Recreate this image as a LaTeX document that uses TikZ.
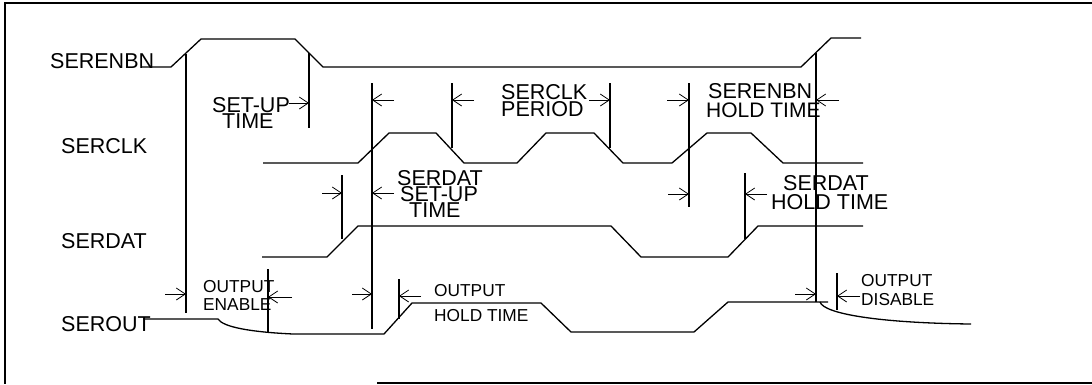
\documentclass[tikz,border=0pt]{standalone}
\usepackage{fontspec}
\setmainfont{Liberation Sans}
\usetikzlibrary{arrows.meta}
\begin{document}
\begin{tikzpicture}[x=1pt,y=-1pt,
  wave/.style={line width=1.3pt,line join=miter},
  marker/.style={line width=1.3pt},
  dim/.style={line width=0.8pt,-{Straight Barb[length=9pt,width=12pt,line width=0.8pt]}},
  big/.style={inner sep=0pt,anchor=base west,font=\fontsize{21.5}{22}\selectfont},
  small/.style={inner sep=0pt,anchor=base west,font=\fontsize{17.3}{18}\selectfont},
  frame/.style={line width=1.2pt}]
\useasboundingbox (0,0) rectangle (1092,384);
% frame
\draw[frame] (1092,3) -- (5,3) -- (5,384);
\draw[frame] (377,383) -- (1092,383);
% signal names
\node[big] (nEnb) at (50,68) {SERENBN};
\node[big] (nClk) at (61,153) {SERCLK};
\node[big] (nDat) at (61,248) {SERDAT};
\node[big] (nOut) at (61,331) {SEROUT};
% waveforms
\draw[wave] (142,67) -- (171,67) -- (201,39) -- (295,39) -- (323,67) -- (801,67) -- (831,38) -- (861,38);
\draw[wave] (263,163) -- (358,163) -- (389,133) -- (436,133) -- (464,163) -- (517,163) -- (546,133) -- (594,133) -- (623,163) -- (672,163) -- (707,133) -- (751,133) -- (783,163) -- (863,163);
\draw[wave] (262,257) -- (327,257) -- (358,226) -- (611,226) -- (641,257) -- (728,257) -- (758,226) -- (863,226);
\draw[wave] (143,319) -- (218,319) .. controls (223,327) and (250,332) .. (293,334) -- (384,334) -- (412,303) -- (541,303) -- (571,332) -- (694,332) -- (728,302) -- (828,302);
\draw[wave] (820,302) .. controls (824,314) and (880,323) .. (971,324);
% marker lines
\draw[marker] (186,54) coordinate (v1t) -- (186,313) coordinate (v1b);
\draw[marker] (309,53) coordinate (v2t) -- (309,128) coordinate (v2b);
\draw[marker] (372,83) coordinate (v3t) -- (372,329) coordinate (v3b);
\draw[marker] (452,83) coordinate (v4t) -- (452,148) coordinate (v4b);
\draw[marker] (610,83) coordinate (v5t) -- (610,148) coordinate (v5b);
\draw[marker] (689,83) coordinate (v6t) -- (689,207) coordinate (v6b);
\draw[marker] (816,53) coordinate (v7t) -- (816,302) coordinate (v7b);
\draw[marker] (342,175) coordinate (v8t) -- (342,239) coordinate (v8b);
\draw[marker] (745,173) coordinate (v9t) -- (745,239) coordinate (v9b);
\draw[marker] (268,269) coordinate (v10t) -- (268,332) coordinate (v10b);
\draw[marker] (399,279) coordinate (v11t) -- (399,319) coordinate (v11b);
\draw[marker] (837,273) coordinate (v12t) -- (837,310) coordinate (v12b);
% arrow tips
\coordinate (t1) at (186,294); \coordinate (t2) at (268,297);
\coordinate (t3) at (309,103); \coordinate (t4) at (372,100);
\coordinate (t5) at (452,100); \coordinate (t6) at (610,100);
\coordinate (t7) at (689,100); \coordinate (t8) at (816,100);
\coordinate (t9) at (342,193); \coordinate (t10) at (372,193);
\coordinate (t11) at (689,194); \coordinate (t12) at (745,194);
\coordinate (t13) at (372,294); \coordinate (t14) at (399,296);
\coordinate (t15) at (816,294); \coordinate (t16) at (837,296);
% arrow tails
\coordinate (s1) at (165,294); \coordinate (s2) at (292,297);
\coordinate (s3) at (289,103); \coordinate (s4) at (394,100);
\coordinate (s5) at (474,100); \coordinate (s6) at (589,100);
\coordinate (s7) at (667,100); \coordinate (s8) at (839,100);
\coordinate (s9) at (322,193); \coordinate (s10) at (394,193);
\coordinate (s11) at (668,194); \coordinate (s12) at (767,194);
\coordinate (s13) at (352,294); \coordinate (s14) at (421,296);
\coordinate (s15) at (795,294); \coordinate (s16) at (860,296);
\foreach \i in {1,...,16} {\draw[dim] (s\i) -- (t\i);}
% labels
\node[big] (lSu1) at (212,112) {SET-UP};
\node[big] (lSu2) at (222,128) {TIME};
\node[big] (lPer1) at (501,99) {SERCLK};
\node[big] (lPer2) at (501,116) {PERIOD};
\node[big] (lDs1) at (397,185) {SERDAT};
\node[big] (lDs2) at (400,201) {SET-UP};
\node[big] (lDs3) at (409,217) {TIME};
\node[big] (lEh1) at (708,98) {SERENBN};
\node[big,font=\fontsize{21}{22}\selectfont] (lEh2) at (706,117) {HOLD TIME};
\node[big] (lDh1) at (783,190) {SERDAT};
\node[big] (lDh2) at (771,209) {HOLD TIME};
\node[small] (lOe1) at (203,292) {OUTPUT};
\node[small] (lOe2) at (203,310) {ENABLE};
\node[small] (lOh1) at (434,296) {OUTPUT};
\node[small] (lOh2) at (434,321) {HOLD TIME};
\node[small] (lOd1) at (861,286) {OUTPUT};
\node[small] (lOd2) at (861,305) {DISABLE};
\end{tikzpicture}
\end{document}
